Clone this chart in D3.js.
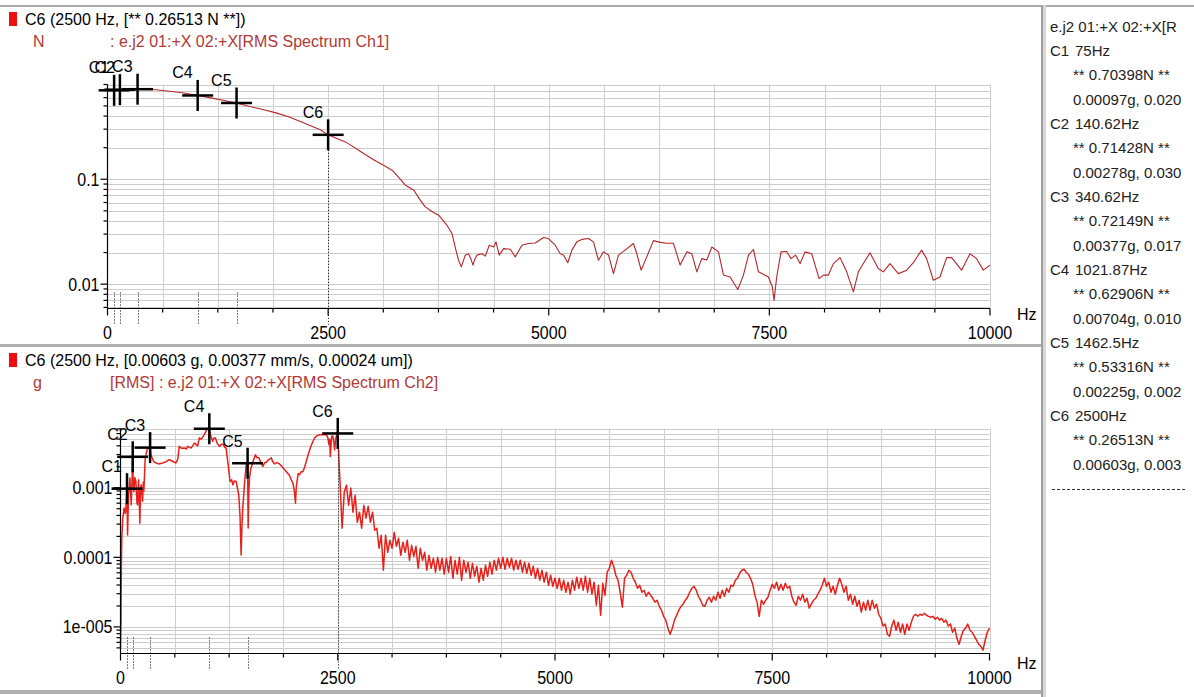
<!DOCTYPE html>
<html><head><meta charset="utf-8">
<script src="https://cdn.jsdelivr.net/npm/d3@7"></script>
<style>
html,body{margin:0;padding:0;background:#fff;overflow:hidden}
svg{display:block;font-family:"Liberation Sans",Arial,sans-serif}
</style></head><body>
<svg id="chart" width="1194" height="697"></svg>
<script>
// ---------------- data ----------------
const cursorNames = ["C1","C2","C3","C4","C5","C6"];
const cursorFreq  = [75, 140.62, 340.62, 1021.87, 1462.5, 2500];
const cursorForce = [0.70398, 0.71428, 0.72149, 0.62906, 0.53316, 0.26513];
const cursorAccel = [0.00097, 0.00278, 0.00377, 0.00704, 0.00225, 0.00603];
const cursorAccel2Text = ["0.020", "0.030", "0.017", "0.010", "0.002", "0.003"];

const xTickValues = [0, 2500, 5000, 7500, 10000];
const xTickLabels = ["0", "2500", "5000", "7500", "10000"];
const ch1YTicks = [0.1, 0.01];
const ch1YLabels = ["0.1", "0.01"];
const ch2YTicks = [0.001, 0.0001, 0.00001];
const ch2YLabels = ["0.001", "0.0001", "1e-005"];

// Ch1 (force, N) spectrum: [Hz, N]
const ch1Spectrum = [
[0,0.697],[40,0.70],[75,0.704],[140,0.714],[250,0.719],[340,0.7215],[450,0.72],[550,0.712],[700,0.69],[850,0.667],
[1022,0.629],[1200,0.59],[1350,0.556],[1462,0.533],[1600,0.496],[1750,0.464],[1920,0.427],[2050,0.394],[2186,0.355],[2300,0.323],
[2412,0.296],[2500,0.265],[2600,0.245],[2695,0.227],[2770,0.208],[2846,0.189],[2920,0.172],[2997,0.157],[3060,0.146],[3129,0.136],
[3224,0.122],[3300,0.104],[3375,0.0877],[3469,0.079],[3540,0.064],[3601,0.0545],[3680,0.049],[3752,0.0454],[3846,0.0365],[3903,0.0304],
[3948,0.0211],[3978,0.0169],[4009,0.0146],[4030,0.0165],[4054,0.0189],[4092,0.0195],[4120,0.0172],[4141,0.0152],[4165,0.0175],[4186,0.0189],
[4243,0.0195],[4281,0.0185],[4326,0.0235],[4375,0.0226],[4402,0.0253],[4439,0.0189],[4488,0.0218],[4564,0.0215],[4620,0.0182],[4696,0.0235],
[4771,0.0244],[4847,0.0247],[4941,0.0278],[4997,0.0272],[5073,0.0235],[5130,0.0195],[5167,0.019],[5216,0.016],[5262,0.0211],[5318,0.0253],
[5375,0.0267],[5450,0.0272],[5507,0.0253],[5563,0.0169],[5620,0.0203],[5677,0.019],[5733,0.0126],[5790,0.0189],[5865,0.0211],[5960,0.0244],
[5998,0.0195],[6047,0.0136],[6111,0.0182],[6186,0.026],[6262,0.025],[6338,0.0245],[6413,0.0245],[6489,0.0152],[6564,0.0203],[6621,0.0195],
[6678,0.0131],[6734,0.0175],[6791,0.017],[6848,0.0226],[6923,0.0203],[6980,0.0122],[7055,0.0117],[7142,0.0089],[7206,0.0122],[7263,0.0189],
[7319,0.0214],[7376,0.0131],[7489,0.0117],[7534,0.0094],[7553,0.0070],[7583,0.0117],[7632,0.0203],[7696,0.0205],[7745,0.0175],[7798,0.0189],
[7848,0.0157],[7904,0.0203],[7980,0.0195],[8063,0.0113],[8112,0.0122],[8169,0.0122],[8225,0.0157],[8301,0.0179],[8376,0.0131],[8452,0.00845],
[8508,0.0131],[8554,0.0152],[8640,0.0199],[8734,0.0141],[8791,0.0131],[8867,0.0157],[8961,0.0126],[9056,0.0136],[9131,0.016],[9225,0.0211],
[9282,0.0175],[9358,0.0109],[9433,0.0117],[9509,0.0179],[9565,0.0179],[9678,0.0136],[9773,0.0195],[9848,0.0175],[9924,0.0136],[10000,0.0152]
];

// Ch2 (acceleration, g) spectrum below 2500 Hz: [Hz, g]
const ch2LowSpectrum = [
[0,5e-6],[5,1.1e-5],[10,8e-5],[15,1.9e-4],[25,3.5e-4],[42,5.1e-4],[55,4.3e-4],[61,4.7e-4],[75,9.7e-4],[81,2.1e-4],
[92,7.9e-4],[100,1.0e-3],[108,1.38e-3],[123,5.7e-4],[132,1.2e-3],[140.6,2.78e-3],[146,1.2e-3],[154,8.8e-4],[165,1.4e-3],[177,1.23e-3],
[190,6e-4],[196,5.7e-4],[208,1.3e-3],[223,3.1e-4],[230,9e-4],[238,1.1e-3],[254,6.4e-4],[262,1.2e-3],[269,9e-4],[284,2.67e-3],
[311,3.72e-3],[340.6,3.77e-3],[350,2.98e-3],[380,2.4e-3],[407,2.27e-3],[440,2.2e-3],[484,2.27e-3],[520,2.35e-3],[561,2.53e-3],[600,2.4e-3],
[638,2.27e-3],[660,2.6e-3],[676,3.93e-3],[700,3.7e-3],[734,3.72e-3],[760,3.6e-3],[772,3.93e-3],[795,3.8e-3],[811,3.72e-3],[830,4.0e-3],
[849,4.39e-3],[870,4.2e-3],[888,4.0e-3],[907,5.18e-3],[930,5.0e-3],[965,5.79e-3],[992,6.83e-3],[1022,7.04e-3],[1040,5.5e-3],[1061,4.64e-3],
[1075,5.2e-3],[1092,5.18e-3],[1115,4.3e-3],[1138,3.93e-3],[1160,4.2e-3],[1184,4.2e-3],[1200,3.8e-3],[1215,3.72e-3],[1234,2.39e-3],[1250,1.6e-3],
[1261,1.23e-3],[1280,1.3e-3],[1292,1.1e-3],[1310,1.25e-3],[1330,1.23e-3],[1345,1.0e-3],[1361,7.9e-4],[1375,4e-4],[1388,1.08e-4],[1398,3e-4],
[1407,5.1e-4],[1426,1.1e-3],[1446,2.14e-3],[1462.5,2.25e-3],[1469,2.63e-4],[1476,8e-4],[1484,1.38e-3],[1500,1.9e-3],[1515,2.14e-3],[1530,2.5e-3],
[1553,2.98e-3],[1570,2.7e-3],[1592,2.7e-3],[1615,2.3e-3],[1638,2.03e-3],[1660,2.3e-3],[1676,2.3e-3],[1700,2.5e-3],[1734,2.7e-3],[1750,2.4e-3],
[1772,2.2e-3],[1800,2.3e-3],[1830,2.2e-3],[1860,2.0e-3],[1888,1.81e-3],[1910,1.7e-3],[1945,1.5e-3],[1965,1.3e-3],[1984,1.17e-3],[2000,9e-4],
[2014,6.0e-4],[2022,1.0e-3],[2030,1.2e-3],[2045,1.6e-3],[2061,1.54e-3],[2080,1.7e-3],[2099,1.7e-3],[2120,2.0e-3],[2138,2.39e-3],[2160,3.0e-3],
[2184,3.72e-3],[2210,4.5e-3],[2234,5.18e-3],[2260,5.6e-3],[2291,5.79e-3],[2330,5.8e-3],[2368,5.79e-3],[2385,5.3e-3],[2399,4.16e-3],[2408,5.0e-3],
[2414,2.82e-3],[2425,4.5e-3],[2434,5.6e-3],[2450,5.2e-3],[2464,3.5e-3],[2475,4.8e-3],[2483,5.5e-3],[2492,5.9e-3],[2500,6.03e-3]
];

// Ch2 spectrum above 2500 Hz, one value per 25 Hz line from 2525 Hz to 10000 Hz (g)
const ch2HighStartHz = 2525, ch2HighStepHz = 25;
const ch2HighValues = [
1.28e-3,2.62e-4,8.6e-4,1.09e-3, 5.6e-4,9.9e-4,4.45e-4,7.8e-4, 3.19e-4,4.45e-4,2.62e-4,5.6e-4, 3.65e-4,5.4e-4,3.19e-4,4.45e-4,
2.45e-4,2.62e-4,1.35e-4,2.08e-4, 6.53e-5,2.08e-4,1.18e-4,1.76e-4, 1.35e-4,2.29e-4,1.44e-4,1.88e-4, 1.07e-4,1.65e-4,1.18e-4,1.76e-4,
9.08e-5,1.49e-4,1.03e-4,1.44e-4, 6.96e-5,1.35e-4,9.08e-5,1.18e-4, 6.53e-5,1.07e-4,6.96e-5,9.7e-5, 6.11e-5,1.0e-4,6.53e-5,9.7e-5,
5.72e-5,9.7e-5,6.11e-5,1.03e-4, 5.0e-5,9.08e-5,5.72e-5,1.0e-4, 4.69e-5,9.08e-5,6.11e-5,8.5e-5, 5.0e-5,8.22e-5,5.35e-5,7.44e-5,
4.39e-5,6.96e-5,4.69e-5,7.69e-5, 5.35e-5,8.5e-5,5.72e-5,9.08e-5, 6.53e-5,9.7e-5,6.96e-5,1.0e-4, 6.74e-5,9.7e-5,7.2e-5,9.7e-5,
6.53e-5,9.08e-5,6.74e-5,9.08e-5, 6.11e-5,8.5e-5,5.91e-5,8.22e-5, 5.53e-5,7.44e-5,5.0e-5,6.96e-5, 4.69e-5,6.53e-5,4.39e-5,6.11e-5,
3.97e-5,5.53e-5,3.84e-5,5.0e-5, 3.59e-5,5.0e-5,3.37e-5,4.69e-5, 3.15e-5,4.39e-5,2.95e-5,4.69e-5, 3.37e-5,5.18e-5,3.59e-5,5.0e-5,
3.37e-5,5.35e-5,3.15e-5,5.0e-5, 2.95e-5,4.39e-5,2.05e-5,3.97e-5, 1.47e-5,4.24e-5,2.85e-5,6.11e-5, 6.96e-5,9.08e-5,7.44e-5,5.53e-5,
4.69e-5,3.15e-5,1.92e-5,5.0e-5, 5.53e-5,6.53e-5,6.11e-5,5.0e-5, 4.39e-5,3.59e-5,3.97e-5,3.15e-5, 3.37e-5,2.76e-5,3.15e-5,2.85e-5,
2.58e-5,2.27e-5,2.42e-5,1.98e-5, 1.74e-5,1.42e-5,1.25e-5,9.6e-6, 7.84e-6,9.6e-6,1.25e-5,1.47e-5, 1.74e-5,1.98e-5,2.12e-5,2.42e-5,
2.67e-5,3.15e-5,3.59e-5,3.84e-5, 3.37e-5,2.76e-5,2.42e-5,2.05e-5, 1.98e-5,2.42e-5,2.67e-5,2.27e-5, 2.76e-5,2.42e-5,3.15e-5,2.58e-5,
3.37e-5,2.76e-5,3.59e-5,3.15e-5, 3.97e-5,3.84e-5,4.69e-5,5.0e-5, 5.91e-5,6.53e-5,6.74e-5,6.11e-5, 5.72e-5,5.0e-5,4.11e-5,2.85e-5,
2.27e-5,1.42e-5,2.42e-5,2.12e-5, 2.42e-5,2.67e-5,3.37e-5,4.11e-5, 3.59e-5,4.39e-5,3.37e-5,4.11e-5, 3.37e-5,4.24e-5,3.59e-5,3.84e-5,
2.76e-5,2.27e-5,2.05e-5,2.76e-5, 2.42e-5,2.95e-5,2.27e-5,2.58e-5, 1.86e-5,2.12e-5,2.42e-5,2.58e-5, 2.95e-5,3.37e-5,3.97e-5,5.0e-5,
3.84e-5,4.39e-5,3.15e-5,3.84e-5, 2.95e-5,3.97e-5,5.0e-5,4.11e-5, 3.15e-5,3.84e-5,2.42e-5,2.95e-5, 2.12e-5,2.76e-5,1.98e-5,2.42e-5,
1.63e-5,2.27e-5,1.74e-5,2.42e-5, 1.74e-5,2.42e-5,1.86e-5,2.12e-5, 1.52e-5,1.33e-5,1.03e-5,1.10e-5, 7.84e-6,7.35e-6,1.03e-5,1.25e-5,
8.95e-6,1.17e-5,8.38e-6,1.10e-5, 7.84e-6,1.10e-5,8.95e-6,1.17e-5, 1.42e-5,1.52e-5,1.42e-5,1.52e-5, 1.47e-5,1.57e-5,1.47e-5,1.42e-5,
1.38e-5,1.42e-5,1.29e-5,1.38e-5, 1.25e-5,1.33e-5,1.17e-5,1.25e-5, 1.03e-5,1.10e-5,8.38e-6,9.6e-6, 6.88e-6,5.64e-6,7.35e-6,8.95e-6,
9.6e-6,1.10e-5,8.95e-6,8.38e-6, 7.35e-6,6.44e-6,5.64e-6,5.28e-6, 4.62e-6,6.44e-6,8.38e-6,9.6e-6
];

// ---------------- drawing ----------------
const svg = d3.select("#chart");
const FONT = 16;

// window frame / separators
svg.append("rect").attr("x",0).attr("y",0).attr("width",1194).attr("height",697).attr("fill","#fff");
svg.append("rect").attr("x",0).attr("y",5).attr("width",1194).attr("height",2).attr("fill","#a8a8a8");
svg.append("rect").attr("x",0).attr("y",344).attr("width",1041).attr("height",3).attr("fill","#b0b0b0");
svg.append("rect").attr("x",0).attr("y",690).attr("width",1041).attr("height",4).attr("fill","#b0b0b0");
svg.append("rect").attr("x",1041).attr("y",5).attr("width",2).attr("height",692).attr("fill","#a0a0a0");
svg.append("rect").attr("x",1043).attr("y",5).attr("width",3).attr("height",692).attr("fill","#d8d8d8");

function stretchedText(g, x, y, str, anchor) {
  return g.append("text")
    .attr("transform", `translate(${x},${y}) scale(1,1.13)`)
    .attr("text-anchor", anchor)
    .attr("font-size", FONT)
    .attr("fill", "#000")
    .text(str);
}

function logGridValues(domain) {
  const vals = [];
  const k0 = Math.floor(Math.log10(domain[0])), k1 = Math.ceil(Math.log10(domain[1]));
  for (let k = k0; k <= k1; k++) for (let m = 1; m <= 9; m++) {
    const v = m * Math.pow(10, k);
    if (v >= domain[0] * 0.999 && v <= domain[1] * 1.001) vals.push(v);
  }
  return vals;
}

function drawPanel(p) {
  const g = svg.append("g");
  const x = d3.scaleLinear().domain([0, 10000]).range([p.left, p.right]);
  const y = d3.scaleLog().domain(p.yDomain).range([p.bottom, p.top]);

  // headers
  g.append("rect").attr("x",9).attr("y",p.titleY-13).attr("width",8).attr("height",14).attr("fill","#ee1010");
  g.append("text").attr("x",25).attr("y",p.titleY).attr("font-size",FONT).attr("fill","#000").text(p.title);
  g.append("text").attr("x",33).attr("y",p.titleY+22).attr("font-size",FONT).attr("fill","#b03a36").text(p.unit);
  g.append("text").attr("x",110).attr("y",p.titleY+22).attr("font-size",FONT).attr("fill","#b03a36").text(p.subtitle);

  // grid
  const minorX = d3.range(625, 10001, 625);
  const gy = logGridValues(p.yDomain);
  g.append("g").selectAll("line").data(gy).join("line")
    .attr("x1", p.left).attr("x2", p.right)
    .attr("y1", d => Math.round(y(d)) + 0.5).attr("y2", d => Math.round(y(d)) + 0.5)
    .attr("stroke", "#cccccc").attr("stroke-width", 1);
  g.append("g").selectAll("line").data(minorX).join("line")
    .attr("x1", d => Math.round(x(d)) + 0.5).attr("x2", d => Math.round(x(d)) + 0.5)
    .attr("y1", p.top).attr("y2", p.bottom)
    .attr("stroke", "#cfcfcf").attr("stroke-width", 1);

  // series
  g.append("path").datum(p.data)
    .attr("d", d3.line().x(d => x(d[0])).y(d => y(d[1])))
    .attr("fill", "none").attr("stroke", p.color).attr("stroke-width", p.lineWidth)
    .attr("stroke-linejoin", "round");

  // axes
  const minorXTicks = minorX.filter(v => v % 2500 !== 0);
  const ax = g.append("g").attr("transform", `translate(0,${p.bottom})`);
  ax.call(d3.axisBottom(x).tickValues(xTickValues).tickSize(7).tickSizeOuter(0).tickFormat("").offset(0));
  ax.append("g").call(d3.axisBottom(x).tickValues(minorXTicks).tickSize(4).tickSizeOuter(0).tickFormat("").offset(0))
    .select(".domain").remove();
  const minorY = gy.filter(v => !p.yTicks.some(t => Math.abs(t - v) / t < 1e-6));
  const ay = g.append("g").attr("transform", `translate(${p.left},0)`);
  ay.call(d3.axisLeft(y).tickValues(p.yTicks).tickSize(7).tickSizeOuter(0).tickFormat("").offset(0));
  ay.append("g").call(d3.axisLeft(y).tickValues(minorY).tickSize(4).tickSizeOuter(0).tickFormat("").offset(0))
    .select(".domain").remove();
  g.selectAll(".domain, .tick line").attr("stroke", "#000").attr("stroke-width", 1.2);

  // tick labels
  xTickValues.forEach((v, i) => stretchedText(g, x(v), p.bottom + 30, xTickLabels[i], "middle"));
  p.yTicks.forEach((v, i) => stretchedText(g, p.left - 8, y(v) + 6.5, p.yLabels[i], "end"));
  g.append("text").attr("x", 1017).attr("y", p.hzY).attr("font-size", FONT).attr("fill", "#000").text("Hz");

  // cursors
  cursorNames.forEach((name, i) => {
    const cx = x(cursorFreq[i]), cy = y(p.cursorVals[i]);
    const isLast = i === cursorNames.length - 1;
    g.append("line")
      .attr("x1", Math.round(cx) + 0.5).attr("x2", Math.round(cx) + 0.5)
      .attr("y1", isLast ? cy : p.bottom - 16).attr("y2", p.bottom + 16)
      .attr("stroke", "#000").attr("stroke-width", 1).attr("stroke-dasharray", "1,2");
    g.append("line").attr("x1", cx - 15.5).attr("x2", cx + 15.5).attr("y1", cy).attr("y2", cy)
      .attr("stroke", "#000").attr("stroke-width", 2.5);
    g.append("line").attr("x1", cx).attr("x2", cx).attr("y1", cy - 15.5).attr("y2", cy + 15.5)
      .attr("stroke", "#000").attr("stroke-width", 2.5);
    g.append("text").attr("x", cx - 5).attr("y", cy - p.labelDy).attr("text-anchor", "end")
      .attr("font-size", FONT).attr("fill", "#000").text(name);
  });
}

const ch2Spectrum = ch2LowSpectrum.concat(ch2HighValues.map((v, i) => [ch2HighStartHz + i * ch2HighStepHz, v]));

drawPanel({
  left: 107.5, right: 990, top: 84.5, bottom: 308.5, yDomain: [0.00586, 0.8],
  titleY: 25, title: `C6 (2500 Hz, [** ${cursorForce[5]} N **])`,
  unit: "N", subtitle: ": e.j2 01:+X 02:+X[RMS Spectrum Ch1]",
  data: ch1Spectrum, color: "#b3262a", lineWidth: 1.1,
  yTicks: ch1YTicks, yLabels: ch1YLabels, cursorVals: cursorForce, hzY: 320, labelDy: 17
});
drawPanel({
  left: 120.5, right: 989.5, top: 428.5, bottom: 653.5, yDomain: [4.15e-6, 0.0071],
  titleY: 366, title: `C6 (2500 Hz, [${cursorAccel[5]} g, 0.00377 mm/s, 0.00024 um])`,
  unit: "g", subtitle: "[RMS] : e.j2 01:+X 02:+X[RMS Spectrum Ch2]",
  data: ch2Spectrum, color: "#e8201a", lineWidth: 1.5,
  yTicks: ch2YTicks, yLabels: ch2YLabels, cursorVals: cursorAccel, hzY: 669, labelDy: 16.5
});

// side panel
svg.append("clipPath").attr("id", "sideClip").append("rect")
  .attr("x", 1046).attr("y", 7).attr("width", 141).attr("height", 690);
const side = svg.append("g").attr("clip-path", "url(#sideClip)")
  .attr("font-size", 15).attr("fill", "#222");
const rowY = i => 51 + (i - 1) * 24.33 + 5;
side.append("text").attr("x", 1050).attr("y", 32).text("e.j2 01:+X 02:+X[R");
cursorNames.forEach((name, i) => {
  const r = 1 + i * 3;
  side.append("text").attr("x", 1050).attr("y", rowY(r)).text(name);
  side.append("text").attr("x", 1075).attr("y", rowY(r)).text(cursorFreq[i] + "Hz");
  side.append("text").attr("x", 1073).attr("y", rowY(r + 1)).text(`** ${cursorForce[i]}N **`);
  side.append("text").attr("x", 1073).attr("y", rowY(r + 2)).text(`${cursorAccel[i]}g, ${cursorAccel2Text[i]}`);
});
side.append("line").attr("x1", 1052).attr("x2", 1186).attr("y1", 489.5).attr("y2", 489.5)
  .attr("stroke", "#333").attr("stroke-width", 1).attr("stroke-dasharray", "3,2");
</script>
</body></html>
